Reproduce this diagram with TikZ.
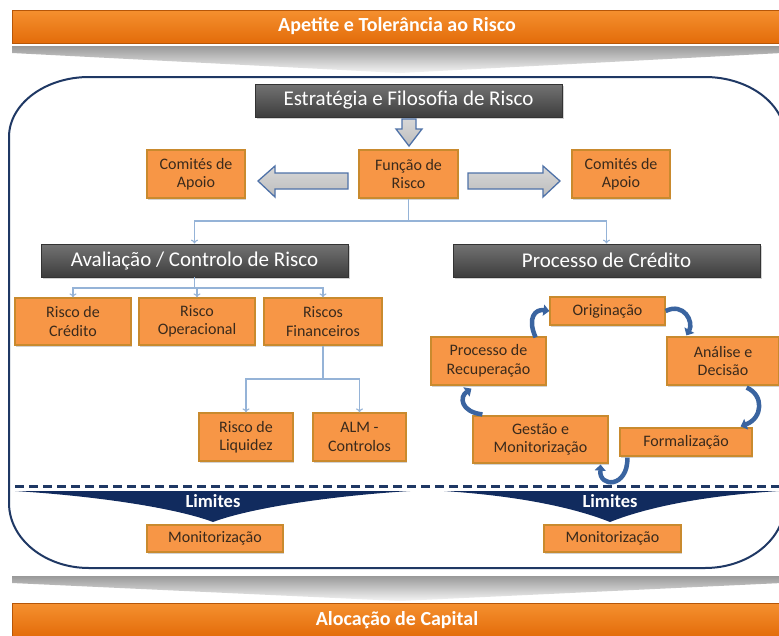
\documentclass[tikz,border=0pt]{standalone}
\usepackage{fontspec}
\setmainfont{Carlito}
\usetikzlibrary{arrows.meta,shadows,calc}
\definecolor{obox}{HTML}{F79646}
\definecolor{oboxdraw}{HTML}{C98A2E}
\definecolor{otext}{HTML}{3A2A1C}
\definecolor{navy}{HTML}{1F3864}
\definecolor{limnavy}{HTML}{112B5E}
\definecolor{connc}{HTML}{95B3D7}
\definecolor{cblue}{HTML}{3A64A0}
\definecolor{barortop}{HTML}{F5902F}
\definecolor{barorbot}{HTML}{E36C0A}
\definecolor{blkfill}{HTML}{BDBDBD}
\definecolor{blkdraw}{HTML}{4F72A8}
\begin{document}
\begin{tikzpicture}[x=1pt,y=-1pt,
  orangebox/.style={draw=oboxdraw, line width=1.2pt, fill=obox, text=otext, align=center,
    font=\fontsize{16}{18.5}\selectfont, inner sep=0pt,
    drop shadow={shadow xshift=1.2pt,shadow yshift=-1.5pt,opacity=0.35}},
  darkbox/.style={draw=black!80, line width=0.8pt, top color=black!55, bottom color=black!76,
    text=white, font=\fontsize{21}{23}\selectfont, inner sep=0pt,
    drop shadow={shadow xshift=1.5pt,shadow yshift=-1.5pt,opacity=0.35}},
  bar/.style={draw=barorbot!80!black, line width=0.8pt, top color=barortop, bottom color=barorbot,
    text=white, font=\bfseries\fontsize{20}{23}\selectfont, inner sep=0pt},
  connector/.style={draw=connc, line width=1.1pt, -{To[length=4pt,width=7pt]}},
  blockarrow/.style={draw=blkdraw, line width=1.3pt, top color=blkfill!60, bottom color=blkfill, line join=miter},
  cycarrow/.style={draw=cblue, line width=4.5pt, -{Triangle[length=6pt,width=11pt]}},
  chevron/.style={top color=black!40, bottom color=black!4, draw=none},
  limtext/.style={text=white, font=\bfseries\fontsize{18.5}{20}\selectfont, inner sep=0pt},
]
\useasboundingbox (0,0) rectangle (779,635);
\clip (0,0) rectangle (779,635);
\fill[white] (0,0) rectangle (779,635);

% top and bottom bars
\node[bar, minimum width=770, minimum height=33] (apetite) at (397,26.5) {Apetite e Tolerância ao Risco};
\node[bar, minimum width=770, minimum height=33] (alocacao) at (397,620) {Alocação de Capital};

% chevrons
\path[chevron] (12,46) -- (782,46) -- (782,53) -- (400,73) -- (12,53) -- cycle;
\path[chevron] (12,576) -- (782,576) -- (782,583) -- (400,601) -- (12,583) -- cycle;

% big frame
\draw[navy, line width=2pt] (89,77) -- (705,77) .. controls (749,77) and (785,104) .. (785,137)
  -- (785,503) .. controls (785,539) and (749,568) .. (705,568)
  -- (89,568) .. controls (45,568) and (9,539) .. (9,503)
  -- (9,137) .. controls (9,104) and (45,77) .. (89,77) -- cycle;

% header boxes
\node[darkbox, minimum width=307, minimum height=33] (estrat) at (408.5,100.5) {Estratégia e Filosofia de Risco};
\node[darkbox, minimum width=307, minimum height=33] (aval) at (194.5,260.5) {Avaliação / Controlo de Risco};
\node[darkbox, minimum width=307, minimum height=33] (proc) at (606.5,260.5) {Processo de Crédito};

% orange boxes
\node[orangebox, minimum width=99, minimum height=48] (funcao) at (408.5,174) {Função de\\Risco};
\node[orangebox, minimum width=98, minimum height=48] (comL) at (196,174) {Comités de\\Apoio};
\node[orangebox, minimum width=98, minimum height=48] (comR) at (621,174) {Comités de\\Apoio};
\node[orangebox, minimum width=116, minimum height=47] (rc) at (73,321.5) {Risco de\\Crédito};
\node[orangebox, minimum width=116, minimum height=47] (ro) at (197,321.5) {Risco\\Operacional};
\node[orangebox, minimum width=118, minimum height=47] (rf) at (323,321.5) {Riscos\\Financeiros};
\node[orangebox, minimum width=94, minimum height=48] (rl) at (246,437) {Risco de\\Liquidez};
\node[orangebox, minimum width=93, minimum height=48] (alm) at (359.5,437) {ALM -\\Controlos};
\node[orangebox, minimum width=115, minimum height=28] (orig) at (607.5,311) {Originação};
\node[orangebox, minimum width=112, minimum height=48] (anal) at (723,361) {Análise e\\Decisão};
\node[orangebox, minimum width=115, minimum height=48] (recup) at (488.5,361) {Processo de\\Recuperação};
\node[orangebox, minimum width=135, minimum height=47] (gest) at (540.5,439.5) {Gestão e\\Monitorização};
\node[orangebox, minimum width=132, minimum height=28] (form) at (686,442) {Formalização};
\node[orangebox, minimum width=136, minimum height=27] (monL) at (215,538.5) {Monitorização};
\node[orangebox, minimum width=137, minimum height=27] (monR) at (612.5,538.5) {Monitorização};

% block arrows
\path[blockarrow] (402,119) -- (416,119) -- (416,129) -- (422,129) -- (409,146) -- (396,129) -- (402,129) -- cycle;
\path[blockarrow] (348,173) -- (275,173) -- (275,166) -- (258,181) -- (275,197) -- (275,189) -- (348,189) -- cycle;
\path[blockarrow] (468,173) -- (543,173) -- (543,166) -- (560,181) -- (543,197) -- (543,189) -- (468,189) -- cycle;

% connectors
\coordinate (j1) at (408.5,221);
\coordinate (j2) at (194.5,288);
\coordinate (j3) at (323,379);
\draw[connector] (funcao.south) -- (j1) -| (aval.north);
\draw[connector] (j1) -| (proc.north);
\draw[connector] (aval.south) -- (j2) -| (rc.north);
\draw[connector] (j2) -| (ro.north);
\draw[connector] (j2) -| (rf.north);
\draw[connector] (rf.south) -- (j3) -| (rl.north);
\draw[connector] (j3) -| (alm.north);

% credit cycle arrows
\draw[cycarrow] ($(recup.north east)+(-11,1)$) .. controls (527,318) and (535,309) .. (orig.west);
\draw[cycarrow] (orig.east) .. controls (684,302) and (694,322) .. ($(anal.north west)+(20,-1)$);
\draw[cycarrow] ($(anal.south east)+(-33,2)$) .. controls (764,395) and (763,418) .. ($(form.north east)+(-12,-1)$);
\draw[cycarrow] ($(form.south west)+(8,1)$) .. controls (628,488) and (599,488) .. ($(gest.south east)+(-8,1)$);
\draw[cycarrow] ($(gest.north west)+(10,-1)$) .. controls (461,412) and (459,397) .. ($(recup.south west)+(41,3)$);

% dashed separator
\draw[navy, line width=3pt, dash pattern=on 9pt off 5pt] (15,486) -- (779,486);

% Limites
\fill[limnavy] (15,491) -- (410,491) .. controls (330,496) and (250,508) .. (213,522)
  .. controls (176,508) and (96,496) .. (15,491) -- cycle;
\fill[limnavy] (444,491) -- (779,491) .. controls (700,496) and (645,508) .. (610,522)
  .. controls (575,508) and (520,496) .. (444,491) -- cycle;
\node[limtext] (limL) at (213,501) {Limites};
\node[limtext] (limR) at (610,501) {Limites};
\end{tikzpicture}
\end{document}
